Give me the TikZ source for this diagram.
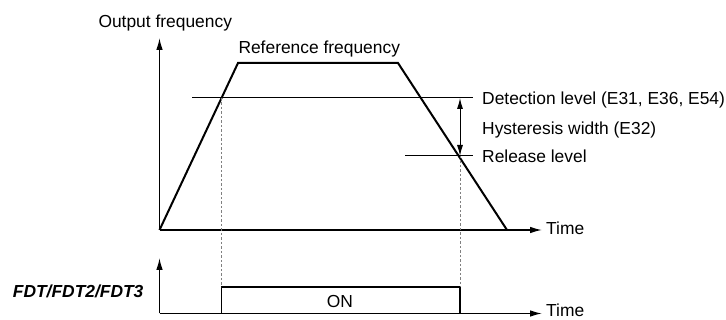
\documentclass[tikz,border=0pt]{standalone}
\usepackage{fontspec}
\setmainfont{Liberation Sans}
\usetikzlibrary{arrows.meta}
\begin{document}
\begin{tikzpicture}[x=1pt,y=-1pt,
  lbl/.style={inner sep=0pt,anchor=base west,font=\fontsize{17.4}{20}\selectfont},
  axis/.style={line width=1.3pt,-{Latex[length=12pt,width=6.5pt]}},
  curve/.style={line width=2pt,line join=miter},
  level/.style={line width=1pt},
  guide/.style={line width=0.7pt,gray,dash pattern=on 2.5pt off 2pt},
  dbl/.style={line width=1pt,{Latex[length=11pt,width=6pt]}-{Latex[length=11pt,width=6pt]}},
  box/.style={line width=1.5pt}]
\useasboundingbox (0,0) rectangle (726,320);
% upper axes
\coordinate (o1) at (159.5,230);
\coordinate (ytop) at (159.5,38);
\coordinate (xend) at (542,230);
\draw[axis] (o1) -- (ytop);
\draw[axis] (o1) -- (xend);
% trapezoid
\coordinate (p1) at (238,63);
\coordinate (p2) at (398,63);
\coordinate (p3) at (507,230);
\draw[curve] (o1) -- (p1) -- (p2) -- (p3);
% levels
\coordinate (d1) at (192,98);
\coordinate (d2) at (473,98);
\coordinate (r1) at (405,156);
\coordinate (r2) at (473,156);
\draw[level] (d1) -- (d2);
\draw[level] (r1) -- (r2);
\coordinate (ha) at (460,98);
\coordinate (hb) at (460,156);
\draw[dbl] (ha) -- (hb);
% lower axes
\coordinate (o2) at (159.5,313.5);
\coordinate (ytop2) at (159.5,258);
\coordinate (xend2) at (542,313.5);
\draw[axis] (o2) -- (ytop2);
\draw[axis] (o2) -- (xend2);
% ON box
\coordinate (b1) at (221.5,313.5);
\coordinate (b2) at (221.5,287);
\coordinate (b3) at (460,287);
\coordinate (b4) at (460,313.5);
\draw[box] (b1) -- (b2) -- (b3) -- (b4);
% guides
\coordinate (g1) at (221.5,98);
\coordinate (g2) at (460,156);
\draw[guide] (g1) -- (b2);
\draw[guide] (g2) -- (b3);
% labels
\node[lbl] (tout) at (98.3,27.3) {Output frequency};
\node[lbl] (tref) at (238.3,54) {Reference frequency};
\node[lbl] (tdet) at (482,105) {Detection level (E31, E36, E54)};
\node[lbl] (thys) at (482,135) {Hysteresis width (E32)};
\node[lbl] (trel) at (482,162.7) {Release level};
\node[lbl] (ttime1) at (546,235) {Time};
\node[lbl] (ttime2) at (546,317) {Time};
\node[lbl,font=\fontsize{17.4}{20}\selectfont\bfseries\itshape] (tfdt) at (12.7,297.3) {FDT/FDT2/FDT3};
\node[lbl,anchor=base] (ton) at (340,307.3) {ON};
\end{tikzpicture}
\end{document}
